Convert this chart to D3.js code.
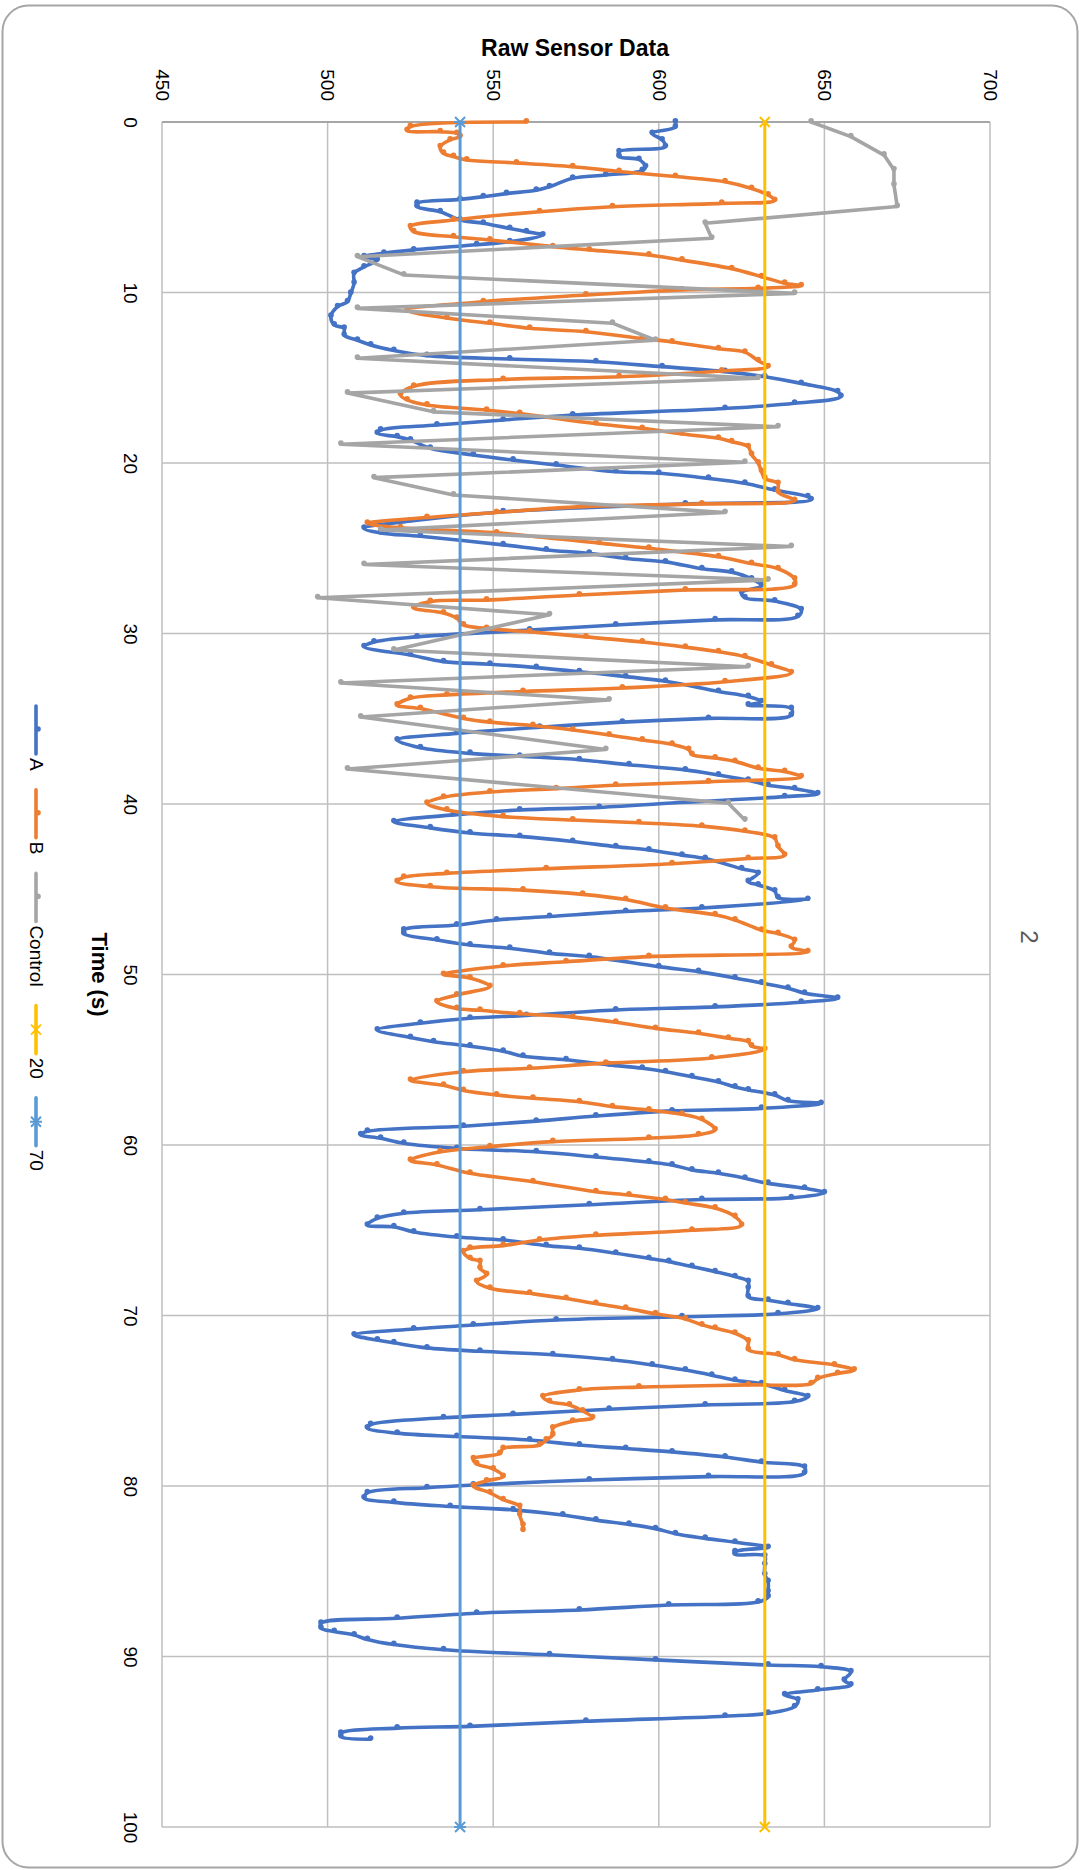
<!DOCTYPE html>
<html>
<head>
<meta charset="utf-8">
<script src="https://cdn.jsdelivr.net/npm/d3@7"></script>
<style>
  body { margin: 0; background: #fff; }
  text { font-family: Arial, "Liberation Sans", sans-serif; }
</style>
</head>
<body>
<div id="chart"></div>
<script>
// eixos
const valueTicks = [450, 500, 550, 600, 650, 700];
const timeTicks = [0, 10, 20, 30, 40, 50, 60, 70, 80, 90, 100];

// dados: [tempo (s), leitura]
const seriesA = [[0,605],[0.3,605],[0.67,598],[1.05,601],[1.45,602],[1.74,588],[2.03,588],[2.2,594],[2.62,596],[2.85,595],[3.11,584],[3.3,574],[3.8,567],[4.0,563],[4.2,554],[4.38,547],[4.54,540],[4.77,527],[4.97,527],[5.26,534],[5.75,540],[5.94,547],[6.24,555],[6.43,560],[6.63,565],[7.02,555],[7.2,545],[7.5,526],[7.7,517],[7.9,511],[8.1,515],[8.5,511],[8.88,508],[9.46,508],[10.05,507],[10.54,506],[10.83,503],[11.4,501],[11.9,502],[12.1,505],[12.5,505],[12.8,509],[13.08,513],[13.4,520],[13.7,530],[13.9,555],[14.06,581],[14.35,601],[14.64,620],[14.94,632],[15.33,643],[15.82,654],[16.1,655],[16.5,641],[16.8,620],[17.19,574],[17.48,553],[17.77,533],[18.07,516],[18.26,515],[18.46,521],[18.65,525],[19.14,531],[19.53,544],[19.83,556],[20.12,569],[20.51,587],[20.6,600],[20.9,615],[21.19,626],[21.59,635],[21.98,645],[22.15,646],[22.4,608],[22.86,553],[23.4,525],[23.83,511],[24.1,516],[24.3,528],[24.8,553],[25.1,566],[25.3,579],[25.6,590],[25.8,602],[26.2,613],[26.4,622],[26.8,628],[27.2,631],[27.6,625],[27.9,626],[28.1,635],[28.6,643],[29.0,642],[29.2,617],[29.5,587],[29.8,561],[30.2,527],[30.5,514],[30.77,511],[31.26,525],[31.65,535],[31.8,549],[32.0,563],[32.24,576],[32.53,590],[32.8,602],[33.4,618],[33.7,627],[34.0,631],[34.2,627],[34.4,640],[34.8,640],[34.98,615],[35.2,589],[35.5,564],[35.86,539],[36.25,521],[36.7,528],[37.03,543],[37.2,558],[37.4,576],[37.7,591],[38.0,608],[38.3,618],[38.6,627],[38.9,633],[39.1,641],[39.4,648],[39.57,638],[39.9,608],[40.2,582],[40.35,558],[40.64,538],[41.04,520],[41.4,531],[41.7,543],[41.9,558],[42.2,574],[42.5,587],[42.7,597],[43.0,607],[43.2,614],[43.8,625],[44.07,630],[44.55,627],[44.75,630],[45.1,635],[45.5,636],[45.6,645],[46.1,613],[46.3,590],[46.6,567],[46.8,551],[47.1,539],[47.39,523],[47.6,523],[47.97,533],[48.27,543],[48.46,555],[48.76,567],[48.95,579],[49.54,600],[49.83,612],[50.2,623],[50.5,631],[50.8,639],[51.1,644],[51.4,654],[51.63,643],[51.9,617],[52.08,587],[52.4,560],[52.57,543],[52.86,528],[53.25,515],[53.7,525],[53.94,532],[54.2,543],[54.5,553],[54.8,559],[55.0,572],[55.3,585],[55.5,595],[55.7,602],[56.0,610],[56.3,618],[56.6,623],[56.77,627],[57.07,635],[57.4,639],[57.56,649],[57.85,631],[58.0,604],[58.3,581],[58.6,563],[58.9,541],[59.2,512],[59.4,510],[59.6,516],[59.9,523],[60.2,539],[60.4,563],[60.7,581],[61.0,597],[61.17,604],[61.46,610],[61.66,618],[61.95,626],[62.25,633],[62.54,644],[62.8,650],[63.1,640],[63.2,613],[63.5,579],[63.8,546],[64.0,523],[64.3,515],[64.7,512],[64.8,520],[65.1,526],[65.4,539],[65.57,553],[65.9,566],[66.06,576],[66.35,587],[66.65,597],[66.84,603],[67.13,610],[67.43,617],[67.72,623],[68.0,627],[68.4,627],[68.9,627],[69.1,633],[69.3,639],[69.6,648],[69.9,636],[70.07,607],[70.26,569],[70.56,544],[70.79,526],[71.14,508],[71.44,515],[71.6,520],[71.9,530],[72.1,546],[72.3,568],[72.6,586],[72.9,598],[73.2,608],[73.5,616],[73.8,623],[74.0,631],[74.4,638],[74.76,645],[75.05,641],[75.25,614],[75.5,585],[75.8,556],[76.0,535],[76.4,513],[76.6,512],[76.9,521],[77.1,539],[77.3,561],[77.6,576],[77.8,590],[78.0,604],[78.3,620],[78.6,631],[78.9,644],[79.25,644],[79.45,615],[79.65,579],[79.94,544],[80.1,530],[80.4,512],[80.7,511],[80.96,520],[81.2,537],[81.4,556],[81.7,571],[82.0,581],[82.25,591],[82.5,599],[82.8,605],[83.07,614],[83.3,623],[83.6,633],[83.85,623],[84.0,623],[84.1,632],[84.6,632],[85.2,632],[85.6,633],[86.2,633],[86.5,633],[86.8,630],[86.98,603],[87.27,576],[87.46,545],[87.76,521],[88.05,498],[88.34,498],[88.54,502],[88.74,508],[89.0,512],[89.3,520],[89.6,535],[89.9,567],[90.2,599],[90.5,633],[90.6,649],[90.9,658],[91.4,656],[91.67,658],[91.96,648],[92.25,638],[92.55,642],[92.94,641],[93.33,633],[93.5,620],[93.8,578],[94.1,543],[94.2,521],[94.5,504],[94.7,504],[94.85,513]];

const seriesB = [[0,560],[0.27,525],[0.5,524],[0.57,534],[0.67,539],[0.85,540],[1.05,537],[1.45,534],[1.84,535],[2.03,538],[2.23,542],[2.4,557],[2.62,574],[2.9,588],[3.2,605],[3.5,620],[3.9,628],[4.28,633],[4.6,635],[4.77,619],[4.97,586],[5.26,564],[5.75,538],[6.14,525],[6.43,526],[6.73,538],[6.92,549],[7.31,568],[7.5,579],[7.8,597],[8.1,607],[8.6,622],[9.07,631],[9.46,638],[9.6,643],[9.76,630],[9.85,607],[10.15,578],[10.54,547],[11.03,524],[11.5,536],[11.8,549],[12.1,561],[12.3,578],[12.7,595],[12.9,604],[13.3,618],[13.5,626],[14.0,630],[14.35,633],[14.6,619],[14.94,588],[15.1,553],[15.5,526],[16.0,522],[16.3,524],[16.6,530],[16.9,548],[17.1,558],[17.7,581],[17.97,595],[18.3,607],[18.55,618],[18.75,622],[19.04,627],[19.5,628],[20.0,630],[20.5,631],[20.9,632],[21.2,636],[21.7,636],[22.2,641],[22.4,613],[22.56,577],[22.9,551],[23.2,530],[23.54,512],[23.8,522],[24.1,551],[24.7,582],[25.0,597],[25.5,618],[25.9,628],[26.2,636],[26.8,641],[27.16,641],[27.45,608],[27.74,576],[28.04,548],[28.13,531],[28.5,526],[28.8,535],[29.1,539],[29.5,541],[29.7,548],[29.9,561],[30.2,578],[30.5,595],[30.8,608],[31.07,618],[31.36,626],[31.85,634],[32.3,640],[32.83,620],[33.2,589],[33.4,559],[33.6,536],[33.8,525],[34.2,521],[34.4,528],[34.98,541],[35.2,549],[35.4,562],[35.66,574],[35.95,585],[36.25,595],[36.5,604],[36.8,609],[37.1,610],[37.3,617],[37.5,623],[37.9,630],[38.1,638],[38.4,643],[38.7,615],[38.9,587],[39.1,569],[39.3,549],[39.6,535],[39.96,530],[40.35,536],[40.74,553],[40.94,574],[41.1,594],[41.3,613],[41.6,626],[42.0,635],[42.5,636],[43.0,638],[43.2,627],[43.5,604],[43.8,566],[44.07,536],[44.3,523],[44.55,521],[44.85,531],[45.05,559],[45.3,577],[45.6,590],[46.1,602],[46.5,617],[46.8,623],[47.4,631],[47.6,636],[48.0,641],[48.4,640],[48.66,645],[48.95,597],[49.25,572],[49.5,553],[50.0,535],[50.2,543],[50.7,549],[51.2,539],[51.6,533],[52.0,539],[52.1,546],[52.3,558],[52.5,574],[52.8,587],[53.16,599],[53.45,612],[53.74,621],[53.94,627],[54.2,628],[54.4,632],[54.9,616],[55.2,584],[55.5,561],[55.7,541],[56.2,525],[56.5,535],[56.8,541],[57.07,551],[57.26,562],[57.46,576],[57.75,586],[57.95,597],[58.2,607],[58.5,613],[59.1,617],[59.4,612],[59.6,597],[59.8,568],[60.1,549],[60.4,534],[60.9,525],[61.17,533],[61.66,543],[62.15,562],[62.74,581],[62.93,591],[63.2,602],[63.4,608],[63.7,617],[64.2,623],[64.7,625],[65.0,610],[65.3,581],[65.57,564],[65.9,553],[66.06,543],[66.26,541],[66.65,543],[66.84,546],[67.23,546],[67.6,548],[68.0,545],[68.4,549],[68.7,561],[69.0,572],[69.3,581],[69.58,590],[69.9,599],[70.2,608],[70.55,613],[70.75,617],[71.04,623],[71.5,627],[72.0,627],[72.3,636],[72.6,641],[72.9,653],[73.2,659],[73.4,654],[73.7,648],[74.0,646],[74.07,627],[74.2,594],[74.37,576],[74.76,565],[75.05,567],[75.25,573],[75.6,577],[76.0,580],[76.2,574],[76.6,568],[77.0,568],[77.3,566],[77.6,564],[77.8,553],[78.1,552],[78.4,544],[78.7,545],[79.0,550],[79.45,553],[79.7,548],[80.0,544],[80.4,549],[80.8,553],[81.2,558],[81.7,558],[82.3,559],[82.6,559]];

const seriesControl = [[0,646],[0.86,658],[1.94,668],[2.8,671],[3.7,671],[4.96,672],[5.94,614],[6.82,616],[7.9,509],[8.97,523],[10.05,641],[10.93,509],[11.8,586],[12.8,599],[13.86,509],[15.03,630],[15.9,506],[17.0,532],[17.87,636],[18.9,504],[19.96,626],[20.86,514],[21.88,538],[22.9,620],[23.93,516],[24.9,640],[25.95,511],[26.86,633],[27.9,497],[28.9,567],[30.97,520],[31.95,627],[32.9,504],[33.9,585],[34.9,510],[36.8,584],[37.95,506],[39.96,621],[40.94,626]];

const series20 = [[0,632],[100,632]];
const series70 = [[0,540],[100,540]];

const seriesNames = ["A", "B", "Control", "20", "70"];
const seriesColors = ["#4472C4", "#ED7D31", "#A5A5A5", "#FFC000", "#5B9BD5"];

const W = 1081, H = 1870;
const svg = d3.select("#chart").append("svg")
    .attr("width", W)
    .attr("height", H);

// moldura
svg.append("rect")
    .attr("x", 2.5).attr("y", 5.5)
    .attr("width", 1075).attr("height", 1862)
    .attr("rx", 26)
    .attr("fill", "#fff")
    .attr("stroke", "#a6a6a6")
    .attr("stroke-width", 2);

// escalas (gráfico girado 90°: leitura na horizontal, tempo na vertical)
const x = d3.scaleLinear().domain([450, 700]).range([162, 990]);
const y = d3.scaleLinear().domain([0, 100]).range([122, 1827]);

// grade
svg.append("g").selectAll("line")
    .data(valueTicks)
    .join("line")
    .attr("x1", d => x(d)).attr("x2", d => x(d))
    .attr("y1", y(0)).attr("y2", y(100))
    .attr("stroke", "#bfbfbf")
    .attr("stroke-width", 1.5);

svg.append("g").selectAll("line")
    .data(timeTicks)
    .join("line")
    .attr("x1", x(450)).attr("x2", x(700))
    .attr("y1", d => y(d)).attr("y2", d => y(d))
    .attr("stroke", d => d === 0 ? "#a6a6a6" : "#bfbfbf")
    .attr("stroke-width", d => d === 0 ? 2 : 1.5);

// eixo dos valores (em cima)
const valueAxis = svg.append("g")
    .attr("transform", `translate(0,${y(0)})`)
    .call(d3.axisTop(x).tickValues(valueTicks).tickSize(0));
valueAxis.select(".domain").remove();
valueAxis.selectAll("text")
    .attr("x", 0).attr("y", 0)
    .attr("dy", "0.35em")
    .attr("transform", "translate(0,-21) rotate(90)")
    .attr("text-anchor", "end")
    .attr("font-size", 19)
    .attr("fill", "#000");

// eixo do tempo (à esquerda)
const timeAxis = svg.append("g")
    .attr("transform", `translate(${x(450)},0)`)
    .call(d3.axisLeft(y).tickValues(timeTicks).tickSize(0));
timeAxis.select(".domain").remove();
timeAxis.selectAll("text")
    .attr("x", 0).attr("y", 0)
    .attr("dy", "0.35em")
    .attr("transform", `translate(${131 - x(450)},0) rotate(90)`)
    .attr("text-anchor", "middle")
    .attr("font-size", 19)
    .attr("fill", "#000");

// títulos
svg.append("text")
    .attr("x", 575).attr("y", 56)
    .attr("text-anchor", "middle")
    .attr("font-size", 23)
    .attr("font-weight", "bold")
    .text("Raw Sensor Data");

svg.append("text")
    .attr("transform", `translate(100,${(y(0) + y(100)) / 2}) rotate(90)`)
    .attr("dy", "0.35em")
    .attr("text-anchor", "middle")
    .attr("font-size", 22)
    .attr("font-weight", "bold")
    .text("Time (s)");

// número da página
svg.append("text")
    .attr("transform", "translate(1029,937) rotate(90)")
    .attr("dy", "0.35em")
    .attr("text-anchor", "middle")
    .attr("font-size", 24)
    .attr("fill", "#595959")
    .text("2");

// linhas das séries
const smoothLine = d3.line()
    .x(d => x(d[1]))
    .y(d => y(d[0]))
    .curve(d3.curveCatmullRom.alpha(0.5));
const straightLine = d3.line()
    .x(d => x(d[1]))
    .y(d => y(d[0]));

const plot = svg.append("g");

function drawSeries(data, color, lineGen, width) {
    plot.append("path")
        .attr("d", lineGen(data))
        .attr("fill", "none")
        .attr("stroke", color)
        .attr("stroke-width", width)
        .attr("stroke-linejoin", "round")
        .attr("stroke-linecap", "round");
    plot.append("g").selectAll("circle")
        .data(data)
        .join("circle")
        .attr("cx", d => x(d[1]))
        .attr("cy", d => y(d[0]) - 1.2)
        .attr("r", 2.8)
        .attr("fill", color);
}

drawSeries(seriesA, seriesColors[0], smoothLine, 3.6);
drawSeries(seriesB, seriesColors[1], smoothLine, 3.6);
drawSeries(seriesControl, seriesColors[2], straightLine, 3.6);

// marcadores x e estrela
function xMarker(g, cx, cy, color) {
    g.append("path")
        .attr("d", `M${cx - 5},${cy - 5}L${cx + 5},${cy + 5}M${cx - 5},${cy + 5}L${cx + 5},${cy - 5}`)
        .attr("stroke", color).attr("stroke-width", 2).attr("fill", "none");
}
function starMarker(g, cx, cy, color) {
    g.append("path")
        .attr("d", `M${cx - 5},${cy - 5}L${cx + 5},${cy + 5}M${cx - 5},${cy + 5}L${cx + 5},${cy - 5}M${cx - 6},${cy}L${cx + 6},${cy}`)
        .attr("stroke", color).attr("stroke-width", 2).attr("fill", "none");
}

[[series20, seriesColors[3], xMarker], [series70, seriesColors[4], starMarker]].forEach(([data, color, mk]) => {
    plot.append("path")
        .attr("d", straightLine(data))
        .attr("fill", "none")
        .attr("stroke", color)
        .attr("stroke-width", 3);
    data.forEach(d => mk(plot, x(d[1]), y(d[0]), color));
});

// legenda
const legend = svg.append("g");
let ly = 706;
seriesNames.forEach((name, i) => {
    const color = seriesColors[i];
    legend.append("line")
        .attr("x1", 36).attr("x2", 36)
        .attr("y1", ly).attr("y2", ly + 48)
        .attr("stroke", color)
        .attr("stroke-width", 3.6)
        .attr("stroke-linecap", "round");
    if (i < 3) {
        legend.append("circle")
            .attr("cx", 38).attr("cy", ly + 23)
            .attr("r", 2.8)
            .attr("fill", color);
    } else if (i === 3) {
        xMarker(legend, 36, ly + 24, color);
    } else {
        starMarker(legend, 36, ly + 24, color);
    }
    const t = legend.append("text")
        .attr("transform", `translate(37,${ly + 52}) rotate(90)`)
        .attr("dy", "0.35em")
        .attr("font-size", 19)
        .attr("fill", "#000")
        .text(name);
    ly += 52 + t.node().getComputedTextLength() + 19;
});
</script>
</body>
</html>
